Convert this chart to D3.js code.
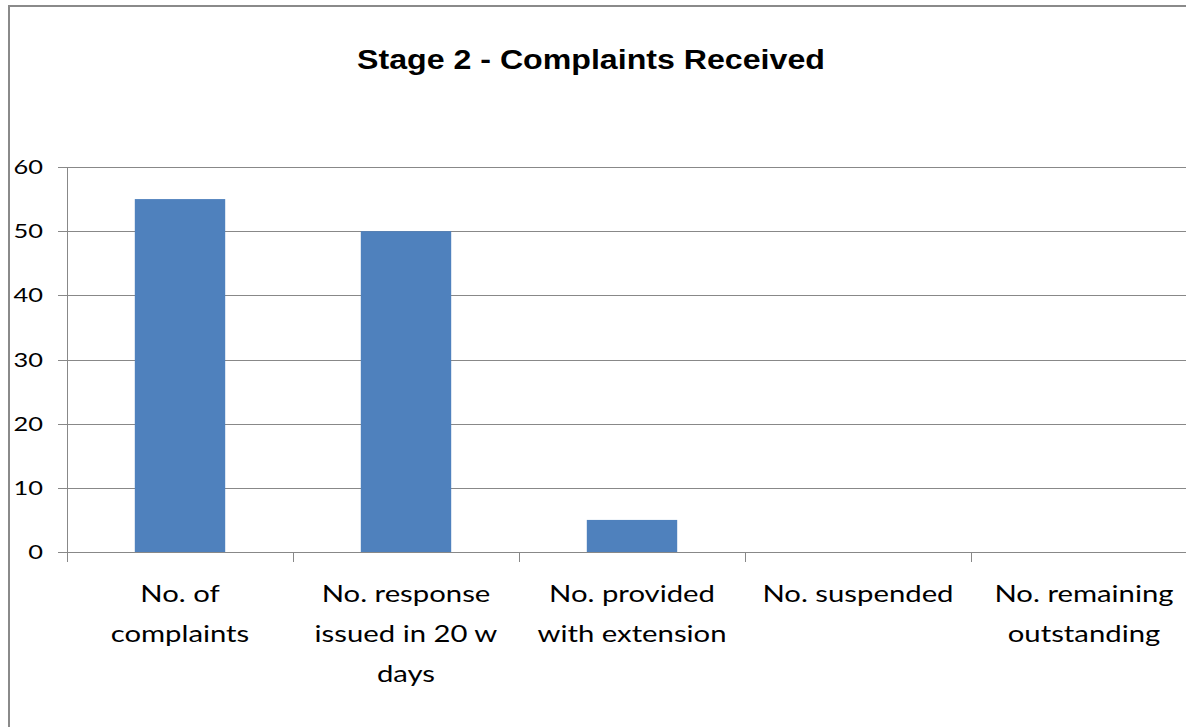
<!DOCTYPE html>
<html>
<head>
<meta charset="utf-8">
<script src="https://cdn.jsdelivr.net/npm/d3@7"></script>
<style>
  html, body { margin: 0; padding: 0; background: #fff; overflow: hidden; }
  svg { display: block; }
</style>
</head>
<body>
<svg id="chart" width="1186" height="727"></svg>
<script>
const title = "Stage 2 - Complaints Received";
const categories = [
  "No. of\ncomplaints",
  "No. response\nissued in 20 w\ndays",
  "No. provided\nwith extension",
  "No. suspended",
  "No. remaining\noutstanding"
];
const values = [55, 50, 5, 0, 0];
const yTicks = [0, 10, 20, 30, 40, 50, 60];

const svg = d3.select("#chart");
const W = 1186, H = 727;
const labelFont = "Lato, 'Noto Sans', sans-serif";

// the reference text looks horizontally stretched; widen glyphs to match
function stretch(sel, k) {
  sel.each(function () {
    const len = this.getComputedTextLength();
    d3.select(this).attr("textLength", len * k).attr("lengthAdjust", "spacingAndGlyphs");
  });
}

svg.append("rect").attr("width", W).attr("height", H).attr("fill", "#fff");

// chart frame (extends past the right/bottom edge)
svg.append("path")
  .attr("d", "M9,800 V6 H1300")
  .attr("fill", "none")
  .attr("stroke", "#8a8a8a").attr("stroke-width", 2);

const plot = { left: 67, right: 1197, top: 167, bottom: 552 };

const x = d3.scaleBand().domain(categories).range([plot.left, plot.right]).paddingInner(0.6).paddingOuter(0.3);
const xOuter = d3.scaleBand().domain(categories).range([plot.left, plot.right]);
const y = d3.scaleLinear().domain([0, 60]).range([plot.bottom, plot.top]);

// gridlines
svg.append("g").selectAll("line").data(yTicks).join("line")
  .attr("x1", plot.left - 9).attr("x2", plot.right)
  .attr("y1", d => Math.round(y(d)) + 0.5).attr("y2", d => Math.round(y(d)) + 0.5)
  .attr("stroke", "#888").attr("stroke-width", 1);

// y axis line
svg.append("line")
  .attr("x1", plot.left + 0.5).attr("x2", plot.left + 0.5)
  .attr("y1", plot.top).attr("y2", plot.bottom + 10)
  .attr("stroke", "#888");

// category ticks
const tickXs = categories.map(c => xOuter(c) + xOuter.bandwidth());
svg.append("g").selectAll("line").data(tickXs).join("line")
  .attr("x1", d => Math.round(d) + 0.5).attr("x2", d => Math.round(d) + 0.5)
  .attr("y1", plot.bottom).attr("y2", plot.bottom + 10)
  .attr("stroke", "#888");

// bars
svg.append("g").selectAll("rect").data(values).join("rect")
  .attr("x", (d, i) => x(categories[i]))
  .attr("width", x.bandwidth())
  .attr("y", d => y(d))
  .attr("height", d => y(0) - y(d))
  .attr("fill", "#4F81BD");

// y tick labels
const yLab = svg.append("g").selectAll("text").data(yTicks).join("text")
  .attr("x", 43).attr("y", d => y(d) + 7)
  .attr("text-anchor", "end")
  .attr("font-family", labelFont).attr("font-size", 20)
  .attr("fill", "#000")
  .text(d => d);
stretch(yLab, 1.27);

// category labels
const catG = svg.append("g");
categories.forEach(c => {
  const cx = xOuter(c) + xOuter.bandwidth() / 2;
  c.split("\n").forEach((line, i) => {
    const t = catG.append("text")
      .attr("x", cx).attr("y", 602 + i * 40)
      .attr("text-anchor", "middle")
      .attr("font-family", labelFont).attr("font-size", 24)
      .attr("fill", "#000")
      .text(line);
    stretch(t, 1.22);
  });
});

// title
const tt = svg.append("text")
  .attr("x", 591).attr("y", 69)
  .attr("text-anchor", "middle")
  .attr("font-family", "'Liberation Sans', Arial, sans-serif")
  .attr("font-weight", "bold").attr("font-size", 27)
  .attr("fill", "#000")
  .text(title);
stretch(tt, 1.19);
</script>
</body>
</html>
